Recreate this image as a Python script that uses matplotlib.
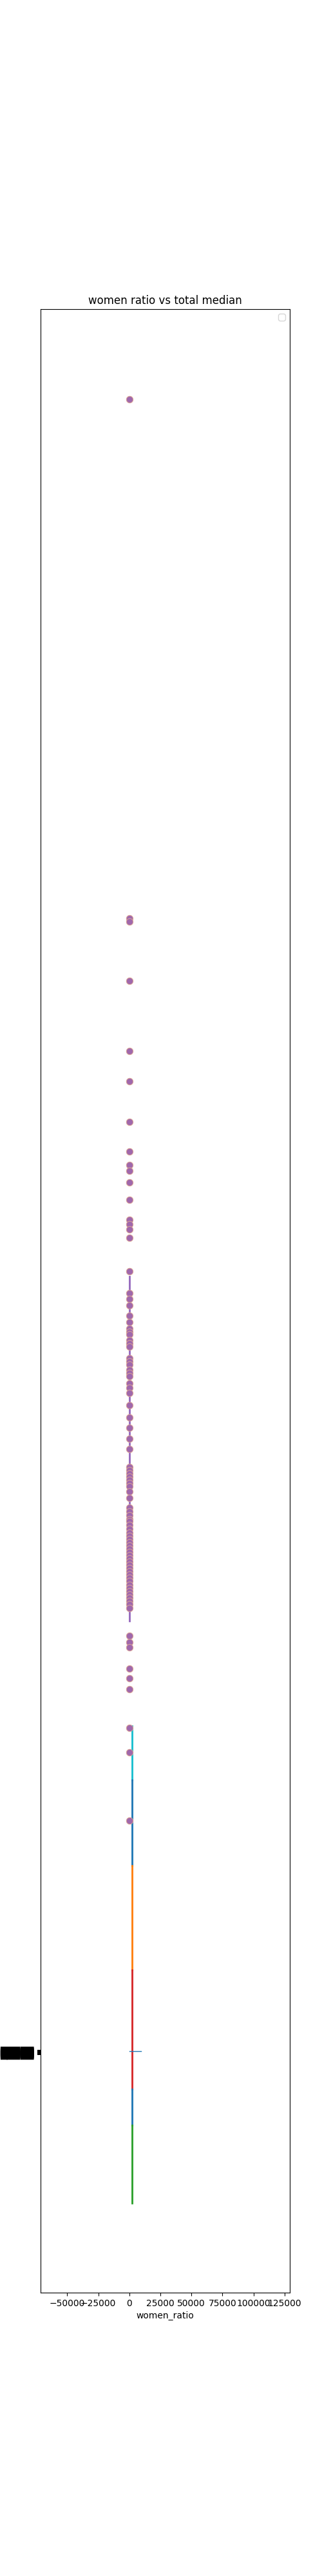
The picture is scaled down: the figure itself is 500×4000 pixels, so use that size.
#!/usr/bin/env python3
"""
women ratio vs total median
"""

import matplotlib
matplotlib.use('agg')
import matplotlib.pyplot as plt
import numpy as np

# 数据（从图中读取，y 单位 = total median）
outlier_median = [117600, 85360, 85160, 81480, 77120, 75240, 72720, 70880, 70040, 69680,
                  68960, 67880, 66640, 66360, 66040, 65520, 63440]
dense_median = [62080, 61720, 61320, 60680, 60280, 59880, 59680, 59520, 59160, 58960,
                58760, 58040, 57840, 57640, 57320, 57120, 56920, 56480, 56200, 55880,
                55120, 54360, 53720, 53040, 52400, 51280, 51080, 50880, 50680, 50480,
                50280, 50080, 49760, 49360, 48760, 48520, 48280, 48040, 47920, 47680,
                47440, 47200, 47000, 46800, 46600, 46400, 46200, 46000, 45800, 45600,
                45400, 45200, 45000, 44800, 44600, 44400, 44200, 43960, 43760, 43560,
                43360, 43160, 42960, 42760, 42520]
low_median = [40800, 40400, 40080, 38760, 38160, 37480, 35080, 33560, 29320]
women_ratio_pts = 0.0

# 中位线段（purple）
whisker_range = [63120, 41720]

# 各类别的竖线段
seg_colors = ['#17becf', '#1f77b4', '#ff7f0e', '#d62728', '#1f77b4', '#2ca02c']
seg_tops = [35200, 31840, 26520, 20040, 12640, 10400]
seg_bottoms = [31840, 26520, 20040, 12640, 10400, 5560]
seg_x = 2070
pale_x = 2900

# 水平短线
hline_y = 15000
hline_x = [0, 9300]

# y 刻度（多个标签重叠在一起）
ytick_values = [14820, 14900, 14980, 15060]
ytick_labels = ['█████'] * 4


def plot_chart():
    fig, ax = plt.subplots(figsize=(5, 40), dpi=100)

    # 竖线段
    for c, t, b in zip(seg_colors, seg_tops, seg_bottoms):
        ax.plot([pale_x, pale_x], [t, b], color=c, alpha=0.25, linewidth=1)
        ax.plot([seg_x, seg_x], [t, b], color=c, linewidth=2)

    ax.plot([hline_x[0], hline_x[1]], [hline_y, hline_y], color='#1f77b4', linewidth=1)

    # purple 线段和散点
    ax.plot([women_ratio_pts, women_ratio_pts], whisker_range, color='#9467bd', linewidth=2)
    all_pts = outlier_median + dense_median + low_median
    xs = np.full(len(all_pts), women_ratio_pts)
    ax.plot(xs, all_pts, 'o', markersize=7.5, markerfacecolor='#a068ac',
            markeredgecolor='#dca494', markeredgewidth=0.7, linestyle='none')

    ax.set_xlim(-71700, 129300)
    ax.set_ylim(0, 123200)
    ax.set_xticks([-50000, -25000, 0, 25000, 50000, 75000, 100000, 125000])
    ax.set_yticks(ytick_values)
    ax.set_yticklabels(ytick_labels)
    ax.tick_params(axis='y', width=1.5)

    ax.set_xlabel('women_ratio')
    ax.set_title('women ratio vs total median')
    ax.legend(handles=[], loc='upper right')

    # 让 y 标签块刚好填满左侧空白（约 52 px 宽）
    fig.canvas.draw()
    renderer = fig.canvas.get_renderer()
    lab = ax.get_yticklabels()[0]
    w = lab.get_window_extent(renderer).width
    fs = lab.get_fontsize() * 52.0 / w
    for t in ax.get_yticklabels():
        t.set_fontsize(fs)

    plt.savefig('out.png', dpi=100)


if __name__ == "__main__":
    plot_chart()
